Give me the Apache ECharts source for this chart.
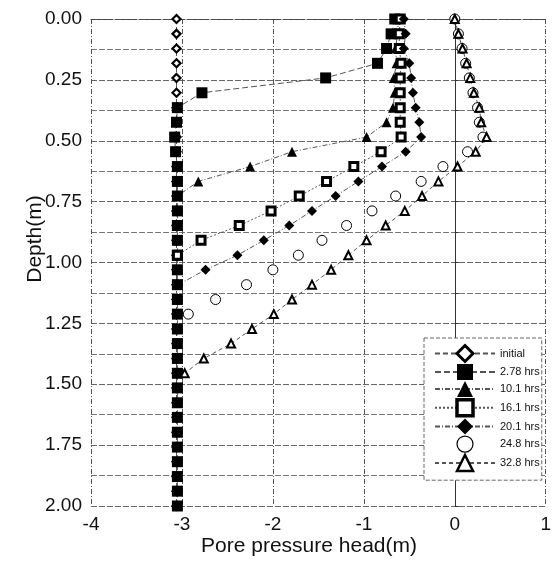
<!DOCTYPE html>
<html>
<head>
<meta charset="utf-8">
<script src="https://cdn.jsdelivr.net/npm/echarts@6/dist/echarts.min.js"></script>
<style>
  html, body { margin: 0; padding: 0; background: #fff; }
  #chart { width: 554px; height: 562px; }
</style>
</head>
<body>
<div id="chart"></div>
<script>
// Depth (m) of the measurement points
const depths = [0.000, 0.061, 0.121, 0.182, 0.242, 0.303, 0.364, 0.424, 0.485, 0.545,
  0.606, 0.667, 0.727, 0.788, 0.848, 0.909, 0.970, 1.030, 1.091, 1.152,
  1.212, 1.273, 1.333, 1.394, 1.455, 1.515, 1.576, 1.636, 1.697, 1.758,
  1.818, 1.879, 1.939, 2.000];

const seriesNames = ['initial', '2.78 hrs', '10.1 hrs', '16.1 hrs', '20.1 hrs', '24.8 hrs', '32.8 hrs'];

// Pore pressure head (m) per series, from the top depth downward
const headInitial = [-3.06, -3.06, -3.06, -3.06, -3.06, -3.06, -3.06, -3.06, -3.06, -3.06,
  -3.06, -3.06, -3.06, -3.06, -3.06, -3.06, -3.06, -3.06, -3.06, -3.06,
  -3.06, -3.06, -3.06, -3.06, -3.06, -3.06, -3.06, -3.06, -3.06, -3.06,
  -3.06, -3.06, -3.06, -3.06];
const head278 = [-0.66, -0.70, -0.75, -0.85, -1.42, -2.78, -3.05, -3.06, -3.08, -3.07,
  -3.05, -3.05, -3.05, -3.05, -3.05, -3.05, -3.05, -3.05, -3.05, -3.05,
  -3.05, -3.05, -3.05, -3.05, -3.05, -3.05, -3.05, -3.05, -3.05, -3.05,
  -3.05, -3.05, -3.05, -3.05];
const head101 = [-0.62, -0.63, -0.65, -0.64, -0.67, -0.66, -0.68, -0.75, -0.97, -1.79,
  -2.25, -2.82, -3.05];
const head161 = [-0.60, -0.61, -0.61, -0.59, -0.60, -0.60, -0.60, -0.60, -0.59, -0.81,
  -1.11, -1.41, -1.71, -2.02, -2.37, -2.79, -3.05];
const head201 = [-0.56, -0.54, -0.56, -0.50, -0.48, -0.46, -0.43, -0.39, -0.37, -0.54,
  -0.80, -1.06, -1.31, -1.57, -1.82, -2.10, -2.39, -2.74, -3.04];
const head248 = [0.00, 0.04, 0.08, 0.12, 0.16, 0.20, 0.25, 0.27, 0.31, 0.14,
  -0.13, -0.37, -0.65, -0.91, -1.19, -1.46, -1.72, -2.00, -2.29, -2.63,
  -2.93];
const head328 = [0.00, 0.04, 0.085, 0.13, 0.17, 0.21, 0.27, 0.29, 0.35, 0.23,
  0.03, -0.18, -0.36, -0.55, -0.76, -0.97, -1.17, -1.36, -1.57, -1.79,
  -1.99, -2.23, -2.46, -2.76, -2.97];

const xTicks = [-4, -3, -2, -1, 0, 1];
const yTicks = [0.00, 0.25, 0.50, 0.75, 1.00, 1.25, 1.50, 1.75, 2.00];

function pairs(vals) {
  return vals.map((v, i) => [v, depths[i]]);
}

const FONT = '"Liberation Sans", Arial, Helvetica, sans-serif';

function mkSeries(name, vals, symbol, size, itemStyle, lineStyle) {
  return {
    name: name,
    type: 'line',
    data: pairs(vals),
    symbol: symbol,
    symbolSize: size,
    showAllSymbol: true,
    itemStyle: itemStyle,
    lineStyle: lineStyle,
    emphasis: { disabled: true },
    animation: false
  };
}

// legend border widths for the open markers
const legendBorder = [3, 0, 0, 3.5, 0, 1.2, 2.5];

const chart = echarts.init(document.getElementById('chart'), null, { renderer: 'canvas' });

const option = {
  animation: false,
  backgroundColor: '#fff',
  grid: { left: 91, right: 6, top: 19, bottom: 56, containLabel: false },
  xAxis: {
    type: 'value',
    min: xTicks[0],
    max: xTicks[xTicks.length - 1],
    interval: 1,
    axisLine: { show: true, lineStyle: { color: '#444', width: 1, type: [4, 2] } },
    axisTick: { show: false },
    axisLabel: { color: '#111', fontSize: 19, fontFamily: FONT, margin: 9 },
    splitLine: { show: true, lineStyle: { color: '#555', width: 1, type: [5, 2, 1, 2] } }
  },
  yAxis: {
    type: 'value',
    inverse: true,
    min: yTicks[0],
    max: yTicks[yTicks.length - 1],
    interval: 0.25,
    axisLine: { show: true, lineStyle: { color: '#333', width: 1 } },
    axisTick: { show: true, inside: true, length: 4, lineStyle: { color: '#333' } },
    minorTick: { show: true, splitNumber: 2, length: 4, lineStyle: { color: '#333' } },
    axisLabel: {
      color: '#111', fontSize: 19, fontFamily: FONT, margin: 9,
      formatter: v => v.toFixed(2)
    },
    splitLine: { show: true, lineStyle: { color: '#666', width: 1, type: [6, 2] } },
    minorSplitLine: { show: true, lineStyle: { color: '#777', width: 1, type: [6, 2] } }
  },
  legend: {
    data: seriesNames.map((n, i) => legendBorder[i] > 0
      ? { name: n, itemStyle: { borderWidth: legendBorder[i], borderColor: '#000', color: '#fff' } }
      : { name: n }),
    orient: 'vertical',
    left: 424,
    top: 338,
    padding: [6, 2, 8, 10],
    itemWidth: 60,
    itemHeight: 20,
    itemGap: 1,
    selectedMode: false,
    backgroundColor: '#fff',
    borderColor: '#666',
    borderWidth: 1,
    borderType: 'dashed',
    textStyle: { color: '#111', fontSize: 11, fontFamily: FONT },
    z: 10
  },
  graphic: [
    {
      type: 'text', x: 309, y: 546, z: 10,
      style: { text: 'Pore pressure head(m)', fill: '#111', font: '21px ' + FONT, textAlign: 'center', textVerticalAlign: 'middle' }
    },
    {
      type: 'text', x: 35, y: 239, rotation: Math.PI / 2, z: 10,
      style: { text: 'Depth(m)', fill: '#111', font: '21px ' + FONT, textAlign: 'center', textVerticalAlign: 'middle' }
    }
  ],
  series: [
    mkSeries(seriesNames[0], headInitial, 'diamond', 8,
      { color: '#fff', borderColor: '#000', borderWidth: 2.2 },
      { color: '#555', width: 1, type: [5, 3] }),
    mkSeries(seriesNames[1], head278, 'rect', 11,
      { color: '#000' },
      { color: '#555', width: 1, type: [6, 3] }),
    mkSeries(seriesNames[2], head101, 'triangle', 10,
      { color: '#000' },
      { color: '#555', width: 1, type: [5, 2, 1, 2] }),
    mkSeries(seriesNames[3], head161, 'rect', 8,
      { color: '#fff', borderColor: '#000', borderWidth: 3 },
      { color: '#555', width: 1, type: [2, 2] }),
    mkSeries(seriesNames[4], head201, 'diamond', 10,
      { color: '#000' },
      { color: '#555', width: 1, type: [5, 2, 1, 2] }),
    mkSeries(seriesNames[5], head248, 'circle', 10,
      { color: '#fff', borderColor: '#000', borderWidth: 1 },
      { color: '#555', width: 1, opacity: 0 }),
    mkSeries(seriesNames[6], head328, 'triangle', 8,
      { color: '#fff', borderColor: '#000', borderWidth: 2 },
      { color: '#555', width: 1, type: [4, 3] })
  ]
};

chart.setOption(option);
</script>
</body>
</html>
